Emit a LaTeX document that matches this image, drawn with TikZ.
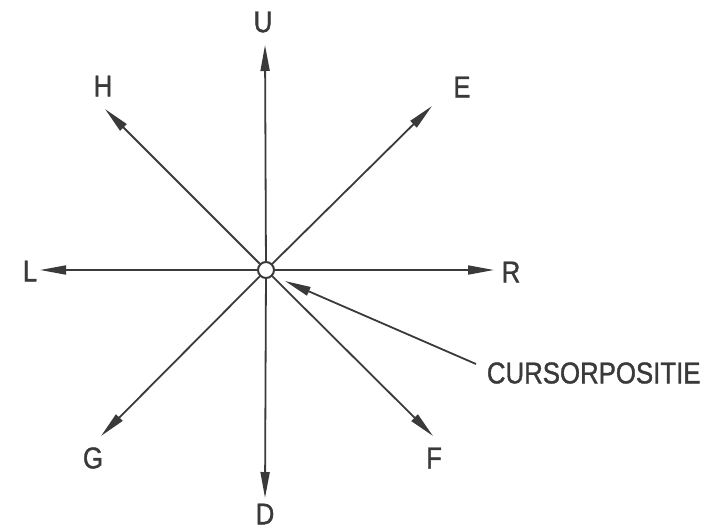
\documentclass[tikz,border=0pt]{standalone}
\usepackage{fontspec}
\setmainfont[FakeStretch=0.86,FakeBold=1.2]{Liberation Sans}
\usetikzlibrary{arrows.meta}
\definecolor{ink}{HTML}{3A3A3A}
\tikzset{
  lbl/.style={font=\fontsize{30}{32}\selectfont,inner sep=0pt,text=ink},
  spoke/.style={draw=ink,->},
}
\begin{document}
\begin{tikzpicture}[x=1pt,y=-1pt,>={Stealth[length=26pt,width=9pt,inset=0pt]},line width=1.8pt]
  \useasboundingbox (0,0) rectangle (703,531);
  \node[circle,draw=ink,fill=white,minimum size=16pt,inner sep=0pt,line width=2pt] (c) at (266,270) {};
  % arrow tips
  \coordinate (tU) at (265,45);
  \coordinate (tH) at (105,109);
  \coordinate (tE) at (432,106);
  \coordinate (tL) at (40,270);
  \coordinate (tR) at (494,270);
  \coordinate (tG) at (101,436);
  \coordinate (tF) at (433,436);
  \coordinate (tD) at (265,498);
  \coordinate (cp) at (476,364);
  % labels
  \node[lbl] (U) at (263,22) {U};
  \node[lbl] (H) at (103,86) {H};
  \node[lbl] (E) at (462,87) {E};
  \node[lbl] (L) at (30,271) {L};
  \node[lbl] (R) at (511,272) {R};
  \node[lbl] (G) at (93,458) {G};
  \node[lbl] (F) at (434,458) {F};
  \node[lbl] (D) at (265,514) {D};
  \node[lbl,anchor=west] (cur) at (486,373) {CURSORPOSITIE};
  % spokes
  \draw[spoke] (c)--(tU);
  \draw[spoke] (c)--(tH);
  \draw[spoke] (c)--(tE);
  \draw[spoke] (c)--(tL);
  \draw[spoke] (c)--(tR);
  \draw[spoke] (c)--(tG);
  \draw[spoke] (c)--(tF);
  \draw[spoke] (c)--(tD);
  \draw[spoke] (cp)--(285,281);
\end{tikzpicture}
\end{document}
